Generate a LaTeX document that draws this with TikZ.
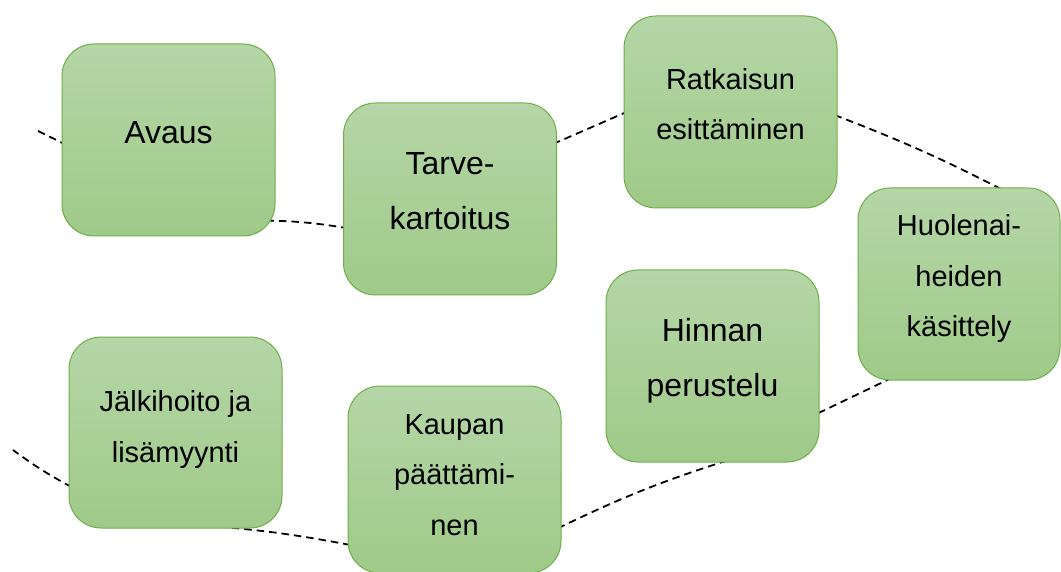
\documentclass[tikz,border=0pt]{standalone}
\usepackage{fontspec}
\setmainfont{Liberation Sans}
\usetikzlibrary{calc,backgrounds}
\definecolor{boxtop}{HTML}{B5D6A7}
\definecolor{boxbot}{HTML}{9FCA89}
\definecolor{boxline}{HTML}{70AD47}
\begin{document}
\begin{tikzpicture}[x=1pt,y=-1pt,
  box/.style={draw=boxline, line width=1pt, rounded corners=32pt,
    top color=boxtop, bottom color=boxbot, minimum width=213pt,
    minimum height=192pt, inner sep=0pt},
  txt/.style={align=center, anchor=base, inner sep=0pt, text=black},
  big/.style={font=\fontsize{32}{55}\selectfont},
  small/.style={font=\fontsize{29}{50.5}\selectfont},
  conn/.style={draw=black, line width=1.8pt, dash pattern=on 7.5pt off 5pt}]
\useasboundingbox (0,0) rectangle (1061,572);
\clip (0,0) rectangle (1061,572);
% boxes
\node[box] (avaus) at (168.5,140) {};
\node[box] (tarve) at (450,199) {};
\node[box] (ratk) at (730.5,112) {};
\node[box, minimum width=202pt] (huol) at (959,284) {};
\node[box] (hinn) at (712.5,366) {};
\node[box, minimum height=187pt] (kaup) at (454.5,479.5) {};
\node[box, minimum height=191pt] (jalk) at (175.5,432.5) {};
% texts (base = baseline of last line)
\node[txt, big] (avaus-t) at (168.5,144) {Avaus};
\node[txt, big] (tarve-t) at (450,230) {Tarve-\\kartoitus};
\node[txt, small] (ratk-t) at (730.5,140) {Ratkaisun\\esittäminen};
\node[txt, small] (huol-t) at (959,337) {Huolenai-\\heiden\\käsittely};
\node[txt, big] (hinn-t) at (712.5,396) {Hinnan\\perustelu};
\node[txt, small] (kaup-t) at (454.5,535) {Kaupan\\päättämi-\\nen};
\node[txt, small] (jalk-t) at (175.5,462) {Jälkihoito ja\\lisämyynti};
% connectors
\coordinate (topfree) at (38,131);
\coordinate (botfree) at (13,450);
\begin{pgfonlayer}{background}
\draw[conn] (topfree) -- ([shift={(3,4)}]avaus.west);
\draw[conn] ([shift={(-9,-16)}]avaus.south east) to[bend left=4] ([shift={(3,29)}]tarve.west);
\draw[conn] ([shift={(-4,-55)}]tarve.east) -- ([shift={(3,0)}]ratk.west);
\draw[conn] ([shift={(-3,3)}]ratk.east) to[bend left=3] ([shift={(45,3)}]huol.north);
\draw[conn] ([shift={(35,-3)}]huol.south west) -- ([shift={(-3,48)}]hinn.east);
\draw[conn] ([shift={(14.5,-2)}]hinn.south) to[bend right=4] ([shift={(-3,48.5)}]kaup.east);
\draw[conn] ([shift={(3,65.5)}]kaup.west) to[bend right=3] ([shift={(30,-3)}]jalk.south);
\draw[conn] ([shift={(3,54.5)}]jalk.west) to[bend left=4] (botfree);
\end{pgfonlayer}
\end{tikzpicture}
\end{document}
